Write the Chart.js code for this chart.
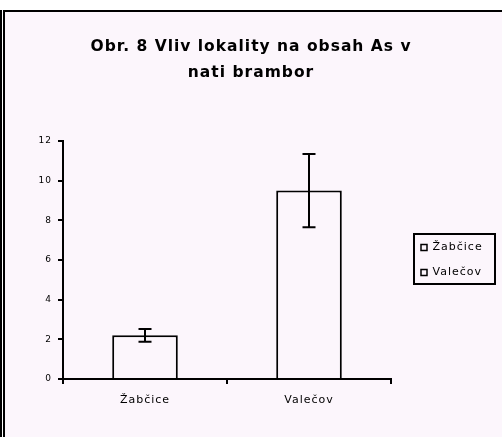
<!DOCTYPE html>
<html>
<head>
<meta charset="utf-8">
<script src="https://cdn.jsdelivr.net/npm/chart.js@4"></script>
<style>
  html, body { margin: 0; padding: 0; background: #ffffff; }
  #wrap { position: relative; width: 502px; height: 437px; }
</style>
</head>
<body>
<div id="wrap"><canvas id="c" width="502" height="437"></canvas></div>
<script>
// ---- data ----
const titleLines = ["Obr. 8 Vliv lokality na obsah As v", "nati brambor"];
const categories = ["Žabčice", "Valečov"];
const means = [2.2, 9.5];
const errors = [0.32, 1.85];
const yTicks = [0, 2, 4, 6, 8, 10, 12];

const BG = '#fcf6fc';
const FONT = "'DejaVu Sans', sans-serif";

const spacingPlugin = {
  id: 'spacing',
  beforeUpdate(chart) { chart.ctx.letterSpacing = '1px'; },
  beforeLayout(chart) { chart.ctx.letterSpacing = '1px'; },
  beforeDraw(chart) { chart.ctx.letterSpacing = '1px'; }
};

const framePlugin = {
  id: 'frame',
  beforeDraw(chart) {
    const ctx = chart.ctx;
    const w = chart.width, h = chart.height;
    ctx.save();
    ctx.fillStyle = '#ffffff';
    ctx.fillRect(0, 0, w, h);
    ctx.fillStyle = BG;
    ctx.fillRect(5, 12, w - 5, h - 12);
    ctx.fillStyle = '#000000';
    ctx.fillRect(0, 10, 2, h - 10);
    ctx.fillRect(3, 10, 2, h - 10);
    ctx.fillRect(3, 10, w - 3, 2);
    ctx.restore();
  }
};

const errorBarPlugin = {
  id: 'errorBars',
  afterDatasetsDraw(chart) {
    const ctx = chart.ctx;
    const y = chart.scales.y;
    const meta = chart.getDatasetMeta(0);
    ctx.save();
    ctx.strokeStyle = '#000';
    ctx.lineWidth = 2;
    meta.data.forEach((bar, i) => {
      const x = Math.round(bar.x);
      const yHi = y.getPixelForValue(means[i] + errors[i]);
      const yLo = y.getPixelForValue(means[i] - errors[i]);
      const cap = 6.5;
      ctx.beginPath();
      ctx.moveTo(x, yHi); ctx.lineTo(x, yLo);
      ctx.moveTo(x - cap, yHi); ctx.lineTo(x + cap, yHi);
      ctx.moveTo(x - cap, yLo); ctx.lineTo(x + cap, yLo);
      ctx.stroke();
    });
    ctx.restore();
  }
};

const legendBoxPlugin = {
  id: 'legendBox',
  afterDraw(chart) {
    const lg = chart.legend;
    if (!lg || !lg.legendHitBoxes || !lg.legendHitBoxes.length) return;
    const hb = lg.legendHitBoxes;
    const left = hb[0].left - 7;
    const top = hb[0].top - 8;
    const last = hb[hb.length - 1];
    const bottom = last.top + last.height + 6;
    let right = 0;
    hb.forEach(b => { right = Math.max(right, b.left + b.width); });
    right += 12;
    const ctx = chart.ctx;
    ctx.save();
    ctx.strokeStyle = '#000';
    ctx.lineWidth = 2;
    ctx.strokeRect(Math.round(left), Math.round(top), Math.round(right - left), Math.round(bottom - top));
    ctx.restore();
  }
};

new Chart(document.getElementById('c'), {
  type: 'bar',
  data: {
    labels: categories,
    datasets: [{
      label: 'As',
      data: means,
      backgroundColor: BG,
      borderColor: '#000',
      borderWidth: 2,
      borderSkipped: 'bottom',
      categoryPercentage: 1.0,
      barPercentage: 0.4
    }]
  },
  options: {
    responsive: false,
    animation: false,
    devicePixelRatio: 1,
    layout: { padding: { left: 17, right: 17, top: 0, bottom: 0 } },
    plugins: {
      tooltip: { enabled: false },
      title: {
        display: true,
        text: titleLines,
        color: '#000',
        font: { family: FONT, size: 15.5, weight: 'bold', lineHeight: 26 / 15.5 },
        padding: { top: 34, bottom: 55 }
      },
      legend: {
        display: true,
        position: 'right',
        fullSize: false,
        align: 'center',
        labels: {
          color: '#000',
          font: { family: FONT, size: 11 },
          boxWidth: 6,
          boxHeight: 6,
          padding: 14,
          generateLabels() {
            return categories.map((c, i) => ({
              text: c,
              fillStyle: BG,
              strokeStyle: '#000',
              lineWidth: 1.5,
              index: i,
              datasetIndex: 0,
              hidden: false
            }));
          }
        }
      }
    },
    scales: {
      x: {
        type: 'category',
        offset: true,
        grid: { display: true, drawOnChartArea: false, drawTicks: true, tickLength: 5, color: '#000', lineWidth: 2, offset: true },
        border: { display: true, color: '#000', width: 2 },
        ticks: { color: '#000', font: { family: FONT, size: 11 }, padding: 10, maxRotation: 0 },
        afterFit(s) { s.height = 58; }
      },
      y: {
        type: 'linear',
        min: 0,
        max: 12,
        afterBuildTicks(s) { s.ticks = yTicks.map(v => ({ value: v })); },
        grid: { display: true, drawOnChartArea: false, drawTicks: true, tickLength: 5, color: '#000', lineWidth: 2 },
        border: { display: true, color: '#000', width: 2 },
        ticks: { color: '#000', font: { family: FONT, size: 9 }, padding: 6 },
        afterFit(s) { s.width = 46; }
      },
      spacer: {
        type: 'linear',
        position: 'right',
        display: true,
        grid: { display: false },
        border: { display: false },
        ticks: { display: false },
        afterFit(s) { s.width = 16; }
      }
    }
  },
  plugins: [spacingPlugin, framePlugin, errorBarPlugin, legendBoxPlugin]
});
</script>
</body>
</html>
